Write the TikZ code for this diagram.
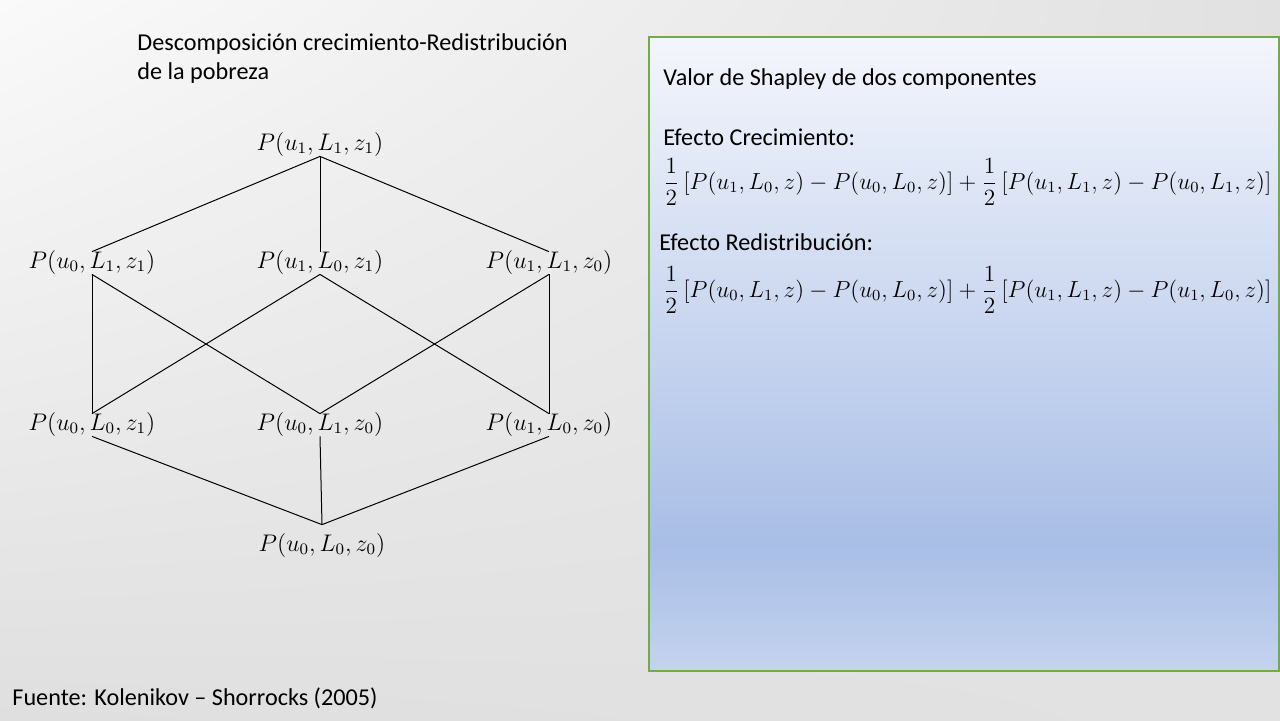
\documentclass[tikz,border=0pt]{standalone}
\usepackage{graphicx}
\usepackage{fontspec}
\setmainfont{Carlito}
\usetikzlibrary{shadings}
\definecolor{bgUL}{HTML}{FAFAFA}
\definecolor{bgUR}{HTML}{E1E1E1}
\definecolor{bgLL}{HTML}{DFDFDF}
\definecolor{bgLR}{HTML}{E2E2E2}
\definecolor{panTop}{HTML}{F4F6FC}
\definecolor{panMid}{HTML}{A9BEE6}
\definecolor{panBot}{HTML}{C4D3EE}
\definecolor{panEdge}{HTML}{70AD47}
\begin{document}
\begin{tikzpicture}[x=0.5pt,y=0.5pt,
  lbl/.style={inner sep=0pt, text height=8pt, text depth=3pt, font=\fontsize{12}{14}\selectfont},
  txt/.style={inner sep=0pt, anchor=west, font=\fontsize{12.1}{14}\selectfont},
  eqn/.style={inner sep=0pt, anchor=west, font=\fontsize{12}{14}\selectfont},
  edge/.style={draw=black, line width=0.5pt}]
\useasboundingbox (0,0) rectangle (1280,-720);
\shade[upper left=bgUL, upper right=bgUR, lower left=bgLL, lower right=bgLR] (0,0) rectangle (1280,-720);
% panel
\shade[top color=panTop, bottom color=panMid] (649,-37) rectangle (1279,-545);
\shade[top color=panMid, bottom color=panBot] (649,-545) rectangle (1279,-671);
\draw[panEdge, line width=0.75pt] (649,-37) rectangle (1279,-671);
% titles
\node[txt] (title1) at (137,-44) {Descomposición crecimiento-Redistribución};
\node[txt] (title2) at (137,-73) {de la pobreza};
\node[txt] (src) at (12,-698) {Fuente: Kolenikov – Shorrocks (2005)};
% lattice
\node[lbl] (n111) at (320,-145) {$P(u_1,L_1,z_1)$};
\node[lbl] (n011) at (92,-263) {$P(u_0,L_1,z_1)$};
\node[lbl] (n101) at (320,-263) {$P(u_1,L_0,z_1)$};
\node[lbl] (n110) at (549,-263) {$P(u_1,L_1,z_0)$};
\node[lbl] (n001) at (92,-425) {$P(u_0,L_0,z_1)$};
\node[lbl] (n010) at (320,-425) {$P(u_0,L_1,z_0)$};
\node[lbl] (n100) at (549,-425) {$P(u_1,L_0,z_0)$};
\node[lbl, text height=13pt] (n000) at (322,-541) {$P(u_0,L_0,z_0)$};
\draw[edge] (n111.south) -- (n011.north);
\draw[edge] (n111.south) -- (n101.north);
\draw[edge] (n111.south) -- (n110.north);
\draw[edge] (n011.south) -- (n001.north);
\draw[edge] (n011.south) -- (n010.north);
\draw[edge] (n101.south) -- (n001.north);
\draw[edge] (n101.south) -- (n100.north);
\draw[edge] (n110.south) -- (n010.north);
\draw[edge] (n110.south) -- (n100.north);
\draw[edge] (n001.south) -- (n000.north);
\draw[edge] (n010.south) -- (n000.north);
\draw[edge] (n100.south) -- (n000.north);
% panel text
\node[txt] (shap) at (663,-79) {Valor de Shapley de dos componentes};
\node[txt] (crec) at (663,-137) {Efecto Crecimiento:};
\node[eqn] (eq1) at (663,-182) {\resizebox{304pt}{!}{$\displaystyle\frac{1}{2}\,[P(u_1,L_0,z)-P(u_0,L_0,z)]+\frac{1}{2}\,[P(u_1,L_1,z)-P(u_0,L_1,z)]$}};
\node[txt] (redis) at (659,-242) {Efecto Redistribución:};
\node[eqn] (eq2) at (663,-290) {\resizebox{304pt}{!}{$\displaystyle\frac{1}{2}\,[P(u_0,L_1,z)-P(u_0,L_0,z)]+\frac{1}{2}\,[P(u_1,L_1,z)-P(u_1,L_0,z)]$}};
\end{tikzpicture}
\end{document}
